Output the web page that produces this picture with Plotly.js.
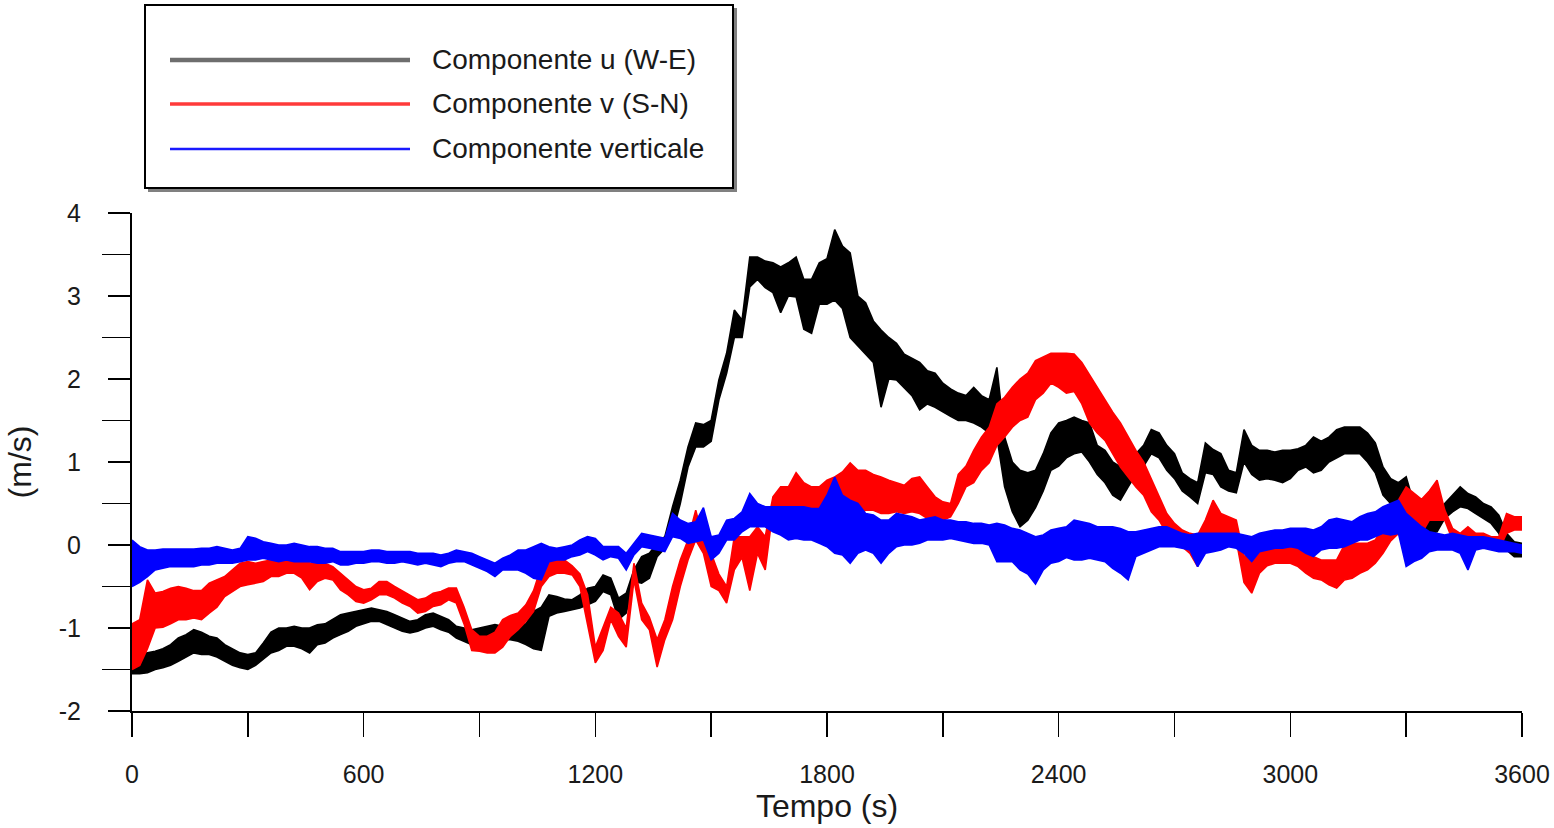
<!DOCTYPE html>
<html>
<head>
<meta charset="utf-8">
<script src="https://cdn.plot.ly/plotly-3.0.1.min.js"></script>
<style>
  html, body { margin: 0; padding: 0; background: #ffffff; }
  #chart { width: 1554px; height: 828px; }
</style>
</head>
<body>
<div id="chart"></div>
<script>
// The series are very noisy; each one is read off the picture as the upper and
// lower edge of its noise band, one pair of values every 20 s from 0 to 3600 s.
const sampleStep = 20;

// Componente u (W-E), m/s
const compUHigh = [
  -1.35,-1.32,-1.30,-1.28,-1.25,-1.20,-1.12,-1.08,-1.02,-1.05,
  -1.10,-1.12,-1.20,-1.25,-1.30,-1.32,-1.30,-1.18,-1.05,-1.00,
  -1.00,-0.98,-1.00,-1.00,-0.96,-0.95,-0.90,-0.84,-0.82,-0.80,
  -0.78,-0.76,-0.78,-0.80,-0.84,-0.88,-0.92,-0.90,-0.84,-0.82,
  -0.86,-0.90,-0.98,-1.00,-1.02,-1.00,-0.98,-0.96,-0.98,-1.00,
  -0.96,-0.95,-0.80,-0.75,-0.60,-0.62,-0.65,-0.66,-0.60,-0.52,
  -0.50,-0.36,-0.40,-0.64,-0.58,-0.30,-0.14,-0.10,0.02,0.10,
  0.46,0.78,1.18,1.47,1.45,1.50,1.99,2.31,2.83,2.71,
  3.47,3.47,3.42,3.40,3.35,3.40,3.47,3.20,3.20,3.40,
  3.45,3.80,3.60,3.52,3.00,2.92,2.70,2.59,2.50,2.43,
  2.30,2.25,2.20,2.10,2.07,1.95,1.88,1.83,1.80,1.90,
  1.80,1.75,2.14,1.30,1.00,0.90,0.87,0.90,1.10,1.35,
  1.47,1.50,1.54,1.50,1.47,1.20,1.14,1.00,0.94,0.95,
  1.10,1.20,1.39,1.35,1.20,1.10,0.87,0.80,0.75,1.23,
  1.15,1.10,0.90,0.87,1.39,1.20,1.14,1.14,1.12,1.14,
  1.14,1.16,1.20,1.30,1.25,1.30,1.39,1.42,1.42,1.42,
  1.35,1.23,0.94,0.80,0.75,0.82,0.50,0.42,0.36,0.36,
  0.50,0.60,0.70,0.62,0.58,0.50,0.46,0.36,0.14,0.04,
  0.02
];
const compULow = [
  -1.55,-1.55,-1.54,-1.50,-1.48,-1.45,-1.40,-1.35,-1.30,-1.32,
  -1.32,-1.35,-1.40,-1.45,-1.48,-1.50,-1.45,-1.38,-1.30,-1.27,
  -1.22,-1.22,-1.25,-1.30,-1.20,-1.18,-1.12,-1.08,-1.04,-0.98,
  -0.95,-0.92,-0.92,-0.96,-1.00,-1.04,-1.06,-1.04,-1.00,-0.98,
  -1.02,-1.05,-1.12,-1.16,-1.20,-1.18,-1.16,-1.14,-1.14,-1.14,
  -1.16,-1.20,-1.25,-1.27,-0.86,-0.82,-0.80,-0.78,-0.76,-0.72,
  -0.68,-0.56,-0.60,-0.90,-0.82,-0.44,-0.46,-0.40,-0.14,-0.04,
  0.14,0.50,0.94,1.18,1.18,1.25,1.75,2.07,2.50,2.50,
  3.11,3.20,3.10,3.04,2.80,3.00,2.99,2.60,2.55,2.90,
  2.90,2.95,2.85,2.50,2.40,2.31,2.20,1.66,2.00,1.99,
  1.90,1.80,1.63,1.70,1.66,1.60,1.55,1.50,1.50,1.47,
  1.42,1.35,1.30,0.70,0.40,0.22,0.30,0.45,0.65,0.90,
  0.95,1.05,1.10,1.12,1.00,0.85,0.75,0.60,0.54,0.70,
  0.85,0.95,1.10,1.05,0.90,0.80,0.65,0.58,0.50,0.87,
  0.85,0.70,0.65,0.63,1.00,0.85,0.78,0.80,0.78,0.75,
  0.80,0.90,0.94,0.87,0.90,1.00,1.05,1.10,1.10,1.10,
  1.00,0.87,0.60,0.50,0.46,0.14,0.16,0.14,0.14,0.16,
  0.32,0.40,0.46,0.44,0.38,0.32,0.26,0.14,-0.06,-0.14,
  -0.14
];

// Componente v (S-N), m/s
const compVHigh = [
  -0.95,-0.90,-0.42,-0.58,-0.56,-0.52,-0.50,-0.52,-0.55,-0.55,
  -0.46,-0.42,-0.38,-0.30,-0.22,-0.20,-0.22,-0.20,-0.18,-0.14,
  -0.10,-0.06,-0.10,-0.22,-0.20,-0.22,-0.26,-0.34,-0.42,-0.50,
  -0.54,-0.52,-0.44,-0.44,-0.50,-0.55,-0.60,-0.66,-0.64,-0.58,
  -0.56,-0.52,-0.52,-0.75,-1.02,-1.10,-1.10,-1.05,-0.90,-0.85,
  -0.82,-0.72,-0.55,-0.26,-0.14,-0.16,-0.18,-0.25,-0.35,-0.60,
  -1.23,-0.99,-0.75,-0.82,-1.00,-0.22,-0.70,-0.87,-1.14,-0.90,
  -0.50,-0.18,0.06,0.42,0.06,-0.10,-0.35,-0.50,0.10,0.10,
  0.10,0.22,0.10,0.58,0.70,0.70,0.87,0.75,0.70,0.70,
  0.78,0.82,0.88,0.99,0.90,0.90,0.85,0.82,0.78,0.75,
  0.72,0.80,0.82,0.70,0.58,0.52,0.50,0.85,0.95,1.14,
  1.30,1.42,1.70,1.78,1.90,2.00,2.07,2.22,2.27,2.31,
  2.31,2.31,2.30,2.20,2.05,1.90,1.75,1.60,1.47,1.30,
  1.14,1.00,0.80,0.60,0.38,0.26,0.18,0.14,0.12,0.30,
  0.54,0.38,0.34,0.30,-0.14,-0.10,0.06,0.00,-0.04,0.02,
  0.02,-0.04,-0.06,-0.14,-0.18,-0.18,-0.18,0.00,0.02,0.02,
  0.02,0.06,0.20,0.42,0.54,0.70,0.62,0.55,0.65,0.78,
  0.42,0.20,0.14,0.22,0.14,0.14,0.10,0.10,0.38,0.34,
  0.34
];
const compVLow = [
  -1.50,-1.45,-1.25,-1.00,-0.99,-0.95,-0.90,-0.90,-0.88,-0.90,
  -0.82,-0.75,-0.62,-0.56,-0.50,-0.48,-0.46,-0.44,-0.38,-0.38,
  -0.34,-0.34,-0.40,-0.54,-0.44,-0.40,-0.42,-0.54,-0.60,-0.68,
  -0.70,-0.66,-0.60,-0.60,-0.64,-0.70,-0.74,-0.82,-0.80,-0.74,
  -0.72,-0.66,-0.70,-0.95,-1.27,-1.28,-1.30,-1.30,-1.23,-1.10,
  -1.02,-0.92,-0.80,-0.50,-0.38,-0.34,-0.34,-0.36,-0.50,-0.95,
  -1.42,-1.27,-0.90,-1.10,-1.23,-0.42,-0.90,-1.02,-1.47,-1.14,
  -0.90,-0.50,-0.18,0.06,-0.10,-0.50,-0.55,-0.70,-0.30,-0.15,
  -0.55,-0.10,-0.30,0.42,0.42,0.42,0.46,0.40,0.42,0.30,
  0.20,0.22,0.28,0.30,0.35,0.42,0.42,0.38,0.38,0.40,
  0.38,0.40,0.38,0.32,0.30,0.30,0.34,0.50,0.70,0.75,
  0.90,0.99,1.20,1.30,1.42,1.50,1.54,1.75,1.83,1.95,
  1.90,1.83,1.85,1.70,1.47,1.35,1.26,1.10,0.94,0.82,
  0.70,0.60,0.40,0.30,0.14,0.06,-0.02,-0.10,-0.26,0.06,
  0.14,0.14,0.10,0.06,-0.45,-0.58,-0.34,-0.25,-0.22,-0.22,
  -0.22,-0.26,-0.34,-0.40,-0.42,-0.48,-0.52,-0.42,-0.40,-0.34,
  -0.30,-0.22,-0.10,0.05,0.14,0.30,0.14,0.14,0.30,0.30,
  0.30,0.06,0.02,0.02,-0.02,-0.02,-0.04,-0.06,0.14,0.18,
  0.18
];

// Componente verticale, m/s
const compWHigh = [
  0.06,-0.02,-0.06,-0.06,-0.05,-0.05,-0.05,-0.05,-0.05,-0.04,
  -0.04,-0.02,-0.04,-0.06,-0.04,0.10,0.08,0.04,0.02,0.00,
  0.00,0.02,0.00,-0.02,-0.02,-0.04,-0.04,-0.08,-0.08,-0.08,
  -0.08,-0.06,-0.06,-0.08,-0.08,-0.08,-0.08,-0.10,-0.10,-0.10,
  -0.12,-0.10,-0.06,-0.08,-0.10,-0.14,-0.18,-0.22,-0.16,-0.12,
  -0.06,-0.06,-0.02,0.02,-0.02,-0.04,-0.02,0.00,0.06,0.10,
  0.08,-0.02,-0.02,-0.02,-0.10,0.02,0.14,0.12,0.10,0.08,
  0.38,0.30,0.26,0.28,0.45,0.10,0.12,0.30,0.32,0.40,
  0.62,0.50,0.46,0.46,0.46,0.46,0.46,0.46,0.44,0.44,
  0.60,0.82,0.60,0.54,0.50,0.38,0.36,0.30,0.30,0.38,
  0.36,0.34,0.30,0.32,0.34,0.30,0.30,0.28,0.28,0.26,
  0.26,0.24,0.26,0.24,0.20,0.18,0.14,0.10,0.12,0.18,
  0.20,0.22,0.30,0.28,0.26,0.22,0.22,0.22,0.20,0.16,
  0.16,0.18,0.20,0.22,0.22,0.18,0.14,0.12,0.14,0.14,
  0.14,0.14,0.14,0.14,0.12,0.10,0.14,0.16,0.18,0.18,
  0.20,0.20,0.20,0.18,0.22,0.30,0.32,0.30,0.28,0.34,
  0.38,0.40,0.46,0.50,0.54,0.38,0.30,0.22,0.16,0.14,
  0.12,0.14,0.12,0.10,0.10,0.10,0.08,0.06,0.04,0.02,
  0.00
];
const compWLow = [
  -0.50,-0.45,-0.38,-0.30,-0.28,-0.26,-0.26,-0.26,-0.26,-0.24,
  -0.24,-0.22,-0.22,-0.22,-0.20,-0.18,-0.18,-0.16,-0.18,-0.20,
  -0.18,-0.20,-0.20,-0.20,-0.22,-0.22,-0.20,-0.24,-0.24,-0.22,
  -0.22,-0.20,-0.20,-0.22,-0.22,-0.20,-0.22,-0.24,-0.22,-0.24,
  -0.26,-0.22,-0.20,-0.20,-0.24,-0.28,-0.32,-0.38,-0.30,-0.30,
  -0.30,-0.34,-0.40,-0.42,-0.20,-0.18,-0.18,-0.14,-0.12,-0.08,
  -0.12,-0.18,-0.14,-0.16,-0.30,-0.12,-0.02,-0.04,-0.06,-0.08,
  0.10,0.08,0.02,0.04,0.06,-0.18,-0.10,0.06,0.06,0.16,
  0.22,0.22,0.22,0.16,0.12,0.06,0.08,0.06,0.06,0.02,
  -0.02,-0.10,-0.12,-0.22,-0.10,-0.06,-0.10,-0.22,-0.10,-0.02,
  0.00,0.00,0.02,0.06,0.06,0.06,0.08,0.06,0.04,0.02,
  0.02,0.00,-0.20,-0.20,-0.20,-0.30,-0.35,-0.47,-0.30,-0.22,
  -0.20,-0.15,-0.18,-0.18,-0.16,-0.18,-0.20,-0.28,-0.34,-0.42,
  -0.14,-0.10,-0.06,-0.02,-0.02,-0.02,-0.04,-0.06,-0.26,-0.10,
  -0.08,-0.06,-0.02,-0.04,-0.10,-0.20,-0.08,-0.06,-0.04,-0.04,
  -0.02,-0.04,-0.10,-0.14,-0.06,-0.04,-0.04,-0.02,0.02,0.06,
  0.06,0.10,0.14,0.12,0.14,-0.26,-0.20,-0.16,-0.08,-0.06,
  -0.06,-0.06,-0.10,-0.30,-0.06,-0.04,-0.06,-0.08,-0.08,-0.08,
  -0.10
];

const seriesNames = ["Componente u (W-E)", "Componente v (S-N)", "Componente verticale"];
const seriesColors = ["#000000", "#ff0000", "#0000ff"];
const xTickVals = [0, 600, 1200, 1800, 2400, 3000, 3600];
const xTickText = ["0", "600", "1200", "1800", "2400", "3000", "3600"];
const yTickVals = [-2, -1, 0, 1, 2, 3, 4];
const yTickText = ["-2", "-1", "0", "1", "2", "3", "4"];
const xTitle = "Tempo (s)";
const yTitle = "(m/s)";

const time = compUHigh.map((_, i) => i * sampleStep);
const FONT = "Liberation Sans, Arial, Helvetica, sans-serif";

const bands = [[compUHigh, compULow], [compVHigh, compVLow], [compWHigh, compWLow]];
const traces = [];
bands.forEach(([hi, lo], k) => {
  traces.push({
    type: "scatter", mode: "lines", x: time, y: hi, name: seriesNames[k],
    line: { color: seriesColors[k], width: 1.6 }, showlegend: false, hoverinfo: "x+y+name"
  });
  traces.push({
    type: "scatter", mode: "lines", x: time, y: lo, name: seriesNames[k],
    line: { color: seriesColors[k], width: 1.6 }, fill: "tonexty", fillcolor: seriesColors[k],
    showlegend: false, hoverinfo: "x+y+name"
  });
});

// Plot area in pixels: x 132..1522, y 213..711
const L = 132, R = 1522, T = 213, B = 711;
const px = v => (v - L) / (R - L);
const py = v => (B - v) / (B - T);

const legendRows = [60, 104, 149];
const legendLineWidths = [4.5, 3.5, 2.5];
const legendLineColors = ["#6e6e6e", "#ff3a3a", "#1a1aff"];

const shapes = [
  { type: "rect", xref: "paper", yref: "paper", x0: px(148), x1: px(737), y0: py(192), y1: py(8),
    fillcolor: "#808080", line: { width: 0 } },
  { type: "rect", xref: "paper", yref: "paper", x0: px(145), x1: px(733), y0: py(188), y1: py(5),
    fillcolor: "#ffffff", line: { color: "#000000", width: 2 } }
];
const annotations = [];
legendRows.forEach((row, k) => {
  shapes.push({ type: "line", xref: "paper", yref: "paper", x0: px(170), x1: px(410), y0: py(row), y1: py(row),
    line: { color: legendLineColors[k], width: legendLineWidths[k] } });
  annotations.push({ xref: "paper", yref: "paper", x: px(430), y: py(row), xanchor: "left", yanchor: "middle",
    text: seriesNames[k], showarrow: false, font: { family: FONT, size: 28, color: "#1a1a1a" } });
});

const layout = {
  width: 1554,
  height: 828,
  margin: { l: L, r: 1554 - R, t: T, b: 828 - B, pad: 0 },
  paper_bgcolor: "#ffffff",
  plot_bgcolor: "#ffffff",
  showlegend: false,
  font: { family: FONT, color: "#1a1a1a" },
  xaxis: {
    range: [0, 3600],
    tickmode: "array",
    tickvals: xTickVals,
    ticktext: xTickText,
    ticks: "outside",
    ticklen: 24,
    tickwidth: 1.5,
    tickcolor: "#000000",
    minor: { tickmode: "array", tickvals: [300, 900, 1500, 2100, 2700, 3300], ticks: "outside", ticklen: 24, tickwidth: 1.5, tickcolor: "#000000", showgrid: false },
    ticklabelstandoff: 16,
    tickfont: { family: FONT, size: 25, color: "#1a1a1a" },
    showline: true,
    linecolor: "#000000",
    linewidth: 2,
    showgrid: false,
    zeroline: false,
    title: { text: xTitle, font: { family: FONT, size: 32, color: "#1a1a1a" }, standoff: 4 }
  },
  yaxis: {
    range: [-2, 4],
    tickmode: "array",
    tickvals: yTickVals,
    ticktext: yTickText,
    ticks: "outside",
    ticklen: 22,
    tickwidth: 1.5,
    tickcolor: "#000000",
    minor: { tickmode: "array", tickvals: [-1.5, -0.5, 0.5, 1.5, 2.5, 3.5], ticks: "outside", ticklen: 28, tickwidth: 1.5, tickcolor: "#000000", showgrid: false },
    ticklabelstandoff: 22,
    tickfont: { family: FONT, size: 25, color: "#1a1a1a" },
    showline: true,
    linecolor: "#000000",
    linewidth: 2,
    showgrid: false,
    zeroline: false,
    title: { text: yTitle, font: { family: FONT, size: 32, color: "#1a1a1a" }, standoff: 18 }
  },
  shapes: shapes,
  annotations: annotations
};

Plotly.newPlot("chart", traces, layout, { displayModeBar: false, staticPlot: true });
</script>
</body>
</html>
